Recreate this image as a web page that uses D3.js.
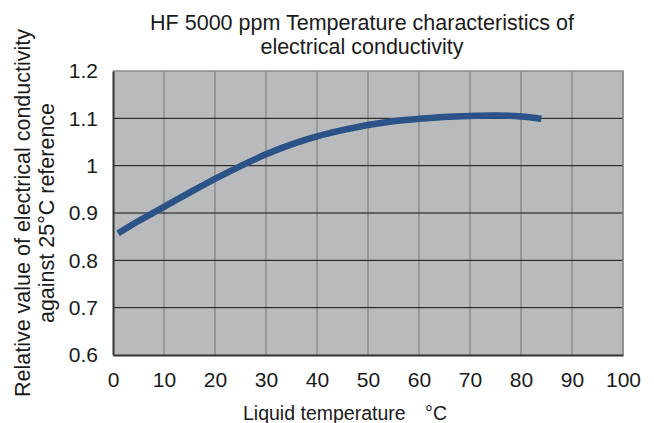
<!DOCTYPE html>
<html lang="en">
<head>
<meta charset="UTF-8">
<title>HF 5000 ppm conductivity</title>
<style>
  body { margin: 0; background: #fff; font-family: 'Liberation Sans', Arial, sans-serif; }
  text { fill: #1a1a1a; }
</style>
</head>
<body>
<div id="chart"></div>
<script src="https://d3js.org/d3.v7.min.js"></script>
<script>
// data
const temps = [1, 5, 10, 15, 20, 25, 30, 35, 40, 45, 50, 55, 60, 65, 70, 75, 80, 84];
const ratio = [0.857, 0.883, 0.913, 0.943, 0.972, 0.999, 1.024, 1.045, 1.062, 1.075, 1.086, 1.094, 1.099, 1.103, 1.105, 1.106, 1.104, 1.099];
const xTicks = [0, 10, 20, 30, 40, 50, 60, 70, 80, 90, 100];
const yTicks = [0.6, 0.7, 0.8, 0.9, 1.0, 1.1, 1.2];
const titleLines = ["HF 5000 ppm Temperature characteristics of", "electrical conductivity"];
const yLabelLines = ["Relative value of electrical conductivity", "against 25°C reference"];

const width = 654, height = 423;
const margin = { top: 71, right: 31, bottom: 68, left: 113 };
const svg = d3.select("#chart").append("svg")
    .attr("width", width).attr("height", height);

const x = d3.scaleLinear().domain([0, 100]).range([margin.left, width - margin.right]);
const y = d3.scaleLinear().domain([0.6, 1.2]).range([height - margin.bottom, margin.top]);

// plot background
svg.append("rect")
    .attr("x", x(0)).attr("y", y(1.2))
    .attr("width", x(100) - x(0)).attr("height", y(0.6) - y(1.2))
    .attr("fill", "#b9babc");

// vertical grid (grey)
svg.append("g").selectAll("line")
    .data(xTicks.slice(1))
    .join("line")
    .attr("x1", d => x(d)).attr("x2", d => x(d))
    .attr("y1", y(1.2)).attr("y2", y(0.6))
    .attr("stroke", "#8c8c8c").attr("stroke-width", 1.5);

// horizontal grid (black)
svg.append("g").selectAll("line")
    .data(yTicks.slice(1, -1))
    .join("line")
    .attr("x1", x(0)).attr("x2", x(100))
    .attr("y1", d => y(d)).attr("y2", d => y(d))
    .attr("stroke", "#111").attr("stroke-width", 1);

// top / right frame grey
svg.append("path")
    .attr("d", `M${x(0)},${y(1.2)}H${x(100)}V${y(0.6)}`)
    .attr("fill", "none").attr("stroke", "#8c8c8c").attr("stroke-width", 1.5);

// axes
const xAxis = svg.append("g")
    .attr("transform", `translate(0,${y(0.6)})`)
    .call(d3.axisBottom(x).tickValues(xTicks).tickSize(0).tickPadding(17));
const yAxis = svg.append("g")
    .attr("transform", `translate(${x(0)},0)`)
    .call(d3.axisLeft(y).tickValues(yTicks).tickSize(0).tickPadding(15)
        .tickFormat(d => d === 1 ? "1" : d3.format(".1f")(d)));
[xAxis, yAxis].forEach(g => {
  g.select(".domain").attr("stroke", "#333").attr("stroke-width", 2);
  g.selectAll("text").attr("font-size", 21).attr("fill", "#1a1a1a")
      .attr("font-family", "'Liberation Sans', Arial, sans-serif");
});

// curve
const line = d3.line()
    .x((d, i) => x(temps[i]))
    .y(d => y(d))
    .curve(d3.curveCatmullRom.alpha(0.5));
svg.append("path")
    .datum(ratio)
    .attr("d", line)
    .attr("fill", "none")
    .attr("stroke", "#2b5387")
    .attr("stroke-width", 6.5);

// title
svg.append("g").selectAll("text")
    .data(titleLines)
    .join("text")
    .attr("x", 362).attr("y", (d, i) => 30 + i * 24)
    .attr("text-anchor", "middle")
    .attr("font-size", 21.5)
    .text(d => d);

// axis titles
svg.append("text")
    .attr("x", 345).attr("y", 420)
    .attr("text-anchor", "middle")
    .attr("font-size", 19.5)
    .text("Liquid temperature\u2003\u00b0C");

svg.append("g").selectAll("text")
    .data(yLabelLines)
    .join("text")
    .attr("transform", (d, i) => `translate(${30 + i * 24},213) rotate(-90)`)
    .attr("text-anchor", "middle")
    .attr("font-size", 21.5)
    .text(d => d);
</script>
</body>
</html>
